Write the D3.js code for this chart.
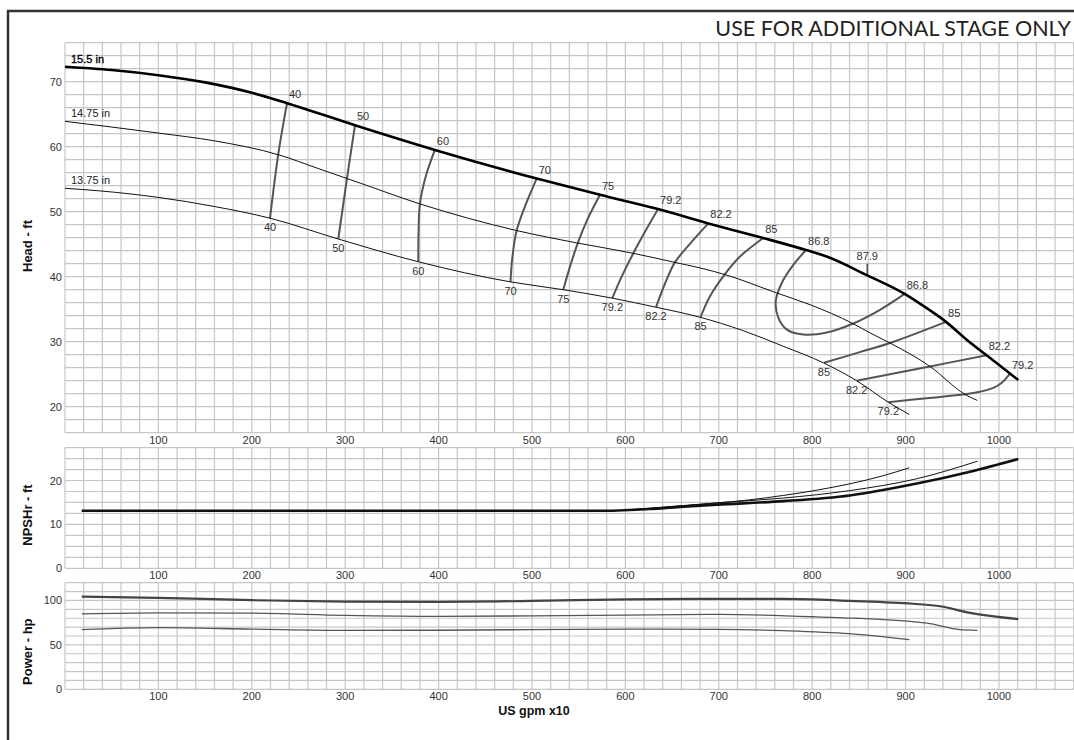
<!DOCTYPE html>
<html><head><meta charset="utf-8">
<script src="https://cdn.jsdelivr.net/npm/d3@7"></script>
<style>
html,body{margin:0;padding:0;background:#fff;}
svg{display:block;}
</style></head>
<body>
<svg id="chart" width="1074" height="740"></svg>
<script>
// ---------------- DATA ----------------
const xTicks = [100,200,300,400,500,600,700,800,900,1000];
const headTicks = [20,30,40,50,60,70];
const npshTicks = [0,10,20];
const powerTicks = [0,50,100];

const impellers = ["15.5 in","14.75 in","13.75 in"];

// Head (ft) vs flow (US gpm x10)
const head155 = [[0,72.3],[50,71.8],[100,71.0],[150,69.9],[200,68.3],[237.7,66.7],[310.5,63.3],[396,59.5],[505,55.1],[572.8,52.6],[635,50.4],[688.8,48.2],[747.6,45.95],[793.4,44.1],[815.5,43.1],[859,40.2],[899,37.35],[917,35.7],[943.3,33.05],[965.4,30.3],[986.8,27.9],[1020.7,24.1]];
const head1475 = [[0,63.9],[100,62.1],[160,60.9],[230,58.7],[270,56.7],[316,54.4],[380,51.2],[483.6,47.1],[548,45.2],[608.5,43.6],[653,42.2],[680,41.35],[706.6,40.33],[762,37.5],[797.6,35.7],[844,32.76],[861.9,31.36],[883.3,29.8],[926.1,26.2],[963.6,21.9],[976.8,20.96]];
const head1375 = [[0,53.6],[37.5,53.2],[100,52.2],[160,50.8],[219.5,49.0],[292.6,45.8],[378.3,42.3],[477,39.2],[533.5,38.0],[586,36.7],[632.8,35.3],[680,33.76],[726,31.7],[769,29.3],[812,26.75],[847.6,24.0],[881.5,20.7],[904,18.8]];

// Efficiency contours (%), points from one end to the other
const effNames = ["40","50","60","70","75","79.2","82.2","85","86.8","87.9","85","82.2","79.2"];
const eff40  = [[237.7,66.7],[228.4,58.9],[219.5,49.0]];
const eff50  = [[310.5,63.3],[301.6,54.8],[292.6,45.8]];
const eff60  = [[396,59.5],[386,55.3],[380,51.2],[378.5,46.5],[378.3,42.3]];
const eff70  = [[505,55.1],[493,51.0],[483.6,47.1],[479,43.0],[477,39.2]];
const eff75  = [[572.8,52.6],[560,49.0],[549.6,45.4],[541,41.7],[533.5,38.0]];
const eff792 = [[635,50.4],[621,46.9],[608.5,43.6],[596,40.0],[586,36.7]];
const eff822 = [[688.8,48.2],[670,45.2],[653,42.2],[642,38.8],[632.8,35.3]];
const eff85  = [[747.6,45.95],[722.7,43.1],[706.6,40.4],[690.6,37.0],[680.5,33.8]];
const eff868 = [[793.4,44.1],[780,41.85],[767.3,39.0],[761,36.2],[763.7,33.7],[772.6,31.9],[790.5,31.1],[815.5,31.4],[844,32.8],[872.6,34.9],[899,37.35]];
const eff879 = [[859,40.2],[859,42.0]];
const eff85b  = [[943.3,33.05],[883.3,29.8],[851,28.4],[812.6,26.75]];
const eff822b = [[986.8,27.9],[926,26.2],[847.6,24.0]];
const eff792b = [[1011.8,25.1],[1003,23.7],[994,22.9],[979.6,22.3],[963.6,21.9],[922.6,21.3],[881.5,20.7]];

// NPSHr (ft)
const npsh155  = [[18,13.1],[300,13.1],[576,13.1],[626,13.5],[658,14.0],[698,14.5],[769,15.3],[840,16.6],[912,19.3],[969,22.0],[1020.7,24.9]];
const npsh1475 = [[18,13.1],[300,13.1],[576,13.1],[626,13.6],[698,14.9],[769,16.0],[840,17.7],[912,20.4],[977,24.4]];
const npsh1375 = [[18,13.1],[300,13.1],[576,13.1],[626,13.7],[662,14.3],[733,15.6],[769,16.6],[805,17.8],[876,21.1],[904,22.9]];

// Power (hp)
const pow155  = [[18,104.3],[100,103],[200,100.3],[300,98.8],[400,98.5],[500,99.5],[600,101.3],[700,101.8],[769,101.8],[840,99.6],[908,96.3],[937,93.5],[969,86.0],[1020.7,79.0]];
const pow1475 = [[18,85.0],[100,86.1],[200,85.7],[300,83.3],[400,82.2],[500,82.6],[600,83.6],[700,84.3],[805,81.5],[905,76.4],[923,74.5],[958,67.1],[977,66.4]];
const pow1375 = [[18,67.1],[100,69.4],[200,67.8],[300,66.3],[400,66.5],[500,67.2],[600,67.8],[700,67.5],[769,66.0],[840,62.6],[904,55.9]];

// ---------------- LAYOUT ----------------
const svg = d3.select("#chart");
const FONT = "'Liberation Sans', Arial, Helvetica, sans-serif";
const x = d3.scaleLinear().domain([0,1080]).range([65,1073.7]);
const yHead = d3.scaleLinear().domain([16,76]).range([432.7,42.7]);
const yNpsh = d3.scaleLinear().domain([0,27.5]).range([568.3,447.6]);
const yPow  = d3.scaleLinear().domain([0,120]).range([689.3,582.7]);

// frame
svg.append("line").attr("x1",7).attr("x2",1074).attr("y1",11).attr("y2",11).attr("stroke","#333").attr("stroke-width",2.5);
svg.append("line").attr("x1",8).attr("x2",8).attr("y1",10).attr("y2",740).attr("stroke","#333").attr("stroke-width",2.5);

// title
const title = svg.append("text").attr("x",1071).attr("y",35.7).attr("text-anchor","end")
  .attr("font-family","Lato, 'Open Sans', sans-serif").attr("font-size",21).attr("fill","#222")
  .text("USE FOR ADDITIONAL STAGE ONLY");
const tw = title.node().getComputedTextLength();
if (tw > 0) title.attr("font-size", Math.max(18, Math.min(23, 21*355.7/tw)));

function panel(y, step, ticks, label, labelCy) {
  const g = svg.append("g");
  const [y0,y1] = y.domain();
  const gridX = d3.range(0, 1081, 20);
  const gridY = d3.range(y0, y1 + 0.001, step);
  g.selectAll(".gx").data(gridX).join("line")
    .attr("x1",d=>x(d)).attr("x2",d=>x(d)).attr("y1",y(y0)).attr("y2",y(y1))
    .attr("stroke","#c6c6c6").attr("stroke-width",1.2);
  g.selectAll(".gy").data(gridY).join("line")
    .attr("x1",x(0)).attr("x2",x(1080)).attr("y1",d=>y(d)).attr("y2",d=>y(d))
    .attr("stroke","#c6c6c6").attr("stroke-width",1.2);
  g.selectAll(".yt").data(ticks).join("text")
    .attr("x",62).attr("y",d=>y(d)+4).attr("text-anchor","end")
    .attr("font-family",FONT).attr("font-size",11).attr("fill","#333").text(d=>d);
  g.selectAll(".xt").data(xTicks).join("text")
    .attr("x",d=>x(d)).attr("y",y(y0)+10.8).attr("text-anchor","middle")
    .attr("font-family",FONT).attr("font-size",11).attr("fill","#333").text(d=>d);
  g.append("text").attr("transform",`translate(31.5,${labelCy}) rotate(-90)`)
    .attr("text-anchor","middle").attr("font-family",FONT).attr("font-weight","bold")
    .attr("font-size",13).attr("fill","#111").text(label);
  return g;
}

panel(yHead, 2, headTicks, "Head - ft", 246);
panel(yNpsh, 2.5, npshTicks, "NPSHr - ft", 515);
panel(yPow, 10, powerTicks, "Power - hp", 651.7);

svg.append("text").attr("x",534).attr("y",715).attr("text-anchor","middle")
  .attr("font-family",FONT).attr("font-weight","bold").attr("font-size",12.5).attr("fill","#111")
  .text("US gpm x10");

function drawLine(data, y, color, width, curve) {
  const line = d3.line().x(d=>x(d[0])).y(d=>y(d[1])).curve(curve || d3.curveMonotoneX);
  svg.append("path").attr("d", line(data)).attr("fill","none")
    .attr("stroke",color).attr("stroke-width",width).attr("stroke-linejoin","round").attr("stroke-linecap","butt");
}

// efficiency contours
const effCurves = [eff40,eff50,eff60,eff70,eff75,eff792,eff822,eff85,eff868,eff879,eff85b,eff822b,eff792b];
const effKinds  = ["both","both","both","both","both","both","both","both","loop","tick","both","both","both"];
effCurves.forEach((pts,i)=>{
  drawLine(pts, yHead, "#555", effKinds[i]==="tick" ? 1.6 : 2, d3.curveCatmullRom.alpha(0.5));
  const a = pts[0], b = pts[pts.length-1];
  const lab = (px,py,anchor,txt)=>svg.append("text").attr("x",px).attr("y",py)
    .attr("text-anchor",anchor).attr("font-family",FONT).attr("font-size",11).attr("fill","#333").text(txt);
  if (effKinds[i]==="tick") {
    lab(x(b[0]), yHead(b[1])-3.5, "middle", effNames[i]);
  } else {
    lab(x(a[0])+2, yHead(a[1])-5, "start", effNames[i]);
    if (effKinds[i]==="loop") lab(x(b[0])+2, yHead(b[1])-5, "start", effNames[i]);
    else lab(x(b[0]), yHead(b[1])+13, "middle", effNames[i]);
  }
});

// head curves
drawLine(head1475, yHead, "#111", 1);
drawLine(head1375, yHead, "#111", 1);
drawLine(head155, yHead, "#000", 2.6);
[head155, head1475, head1375].forEach((c,i)=>{
  svg.append("text").attr("x",x(c[0][0])+6).attr("y",yHead(c[0][1])-4)
    .attr("font-family",FONT).attr("font-size",11).attr("fill",i===0?"#000":"#222")
    .attr("stroke",i===0?"#000":"none").attr("stroke-width",0.35)
    .text(impellers[i]);
});

// NPSH
drawLine(npsh1375, yNpsh, "#111", 1);
drawLine(npsh1475, yNpsh, "#111", 1);
drawLine(npsh155, yNpsh, "#111", 2.6);

// Power
drawLine(pow1375, yPow, "#555", 1.3);
drawLine(pow1475, yPow, "#555", 1.3);
drawLine(pow155, yPow, "#444", 2.2);
</script>
</body></html>
